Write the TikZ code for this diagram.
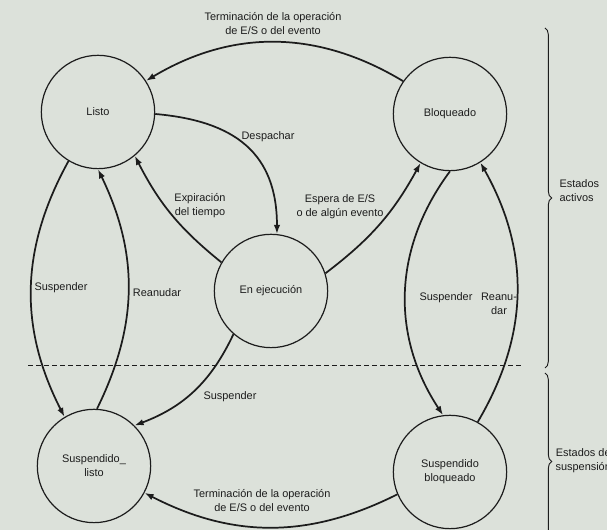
\documentclass[tikz,border=0pt]{standalone}
\usepackage{fontspec}
\setmainfont{Liberation Sans}
\usetikzlibrary{arrows.meta,decorations.pathreplacing}
\definecolor{papel}{HTML}{DCE1DA}
\definecolor{tinta}{HTML}{1C1C1C}
\tikzset{
  estado/.style={
    circle,
    draw=tinta,
    line width=0.9pt,
    minimum size=85pt,
    inner sep=0pt,
    align=center,
    text=tinta,
    font=\fontsize{8.2}{10.5}\selectfont
  },
  trans/.style={
    -{Latex[length=2.4mm,width=1.7mm]},
    line width=1.3pt,
    draw=tinta
  },
  etiqueta/.style={
    font=\fontsize{8.2}{10.5}\selectfont,
    text=tinta,
    align=center,
    inner sep=1pt
  },
  llave/.style={
    decorate,
    decoration={brace, amplitude=5pt},
    line width=0.7pt,
    draw=tinta
  }
}

\begin{document}
\begin{tikzpicture}[x=0.75pt,y=0.75pt]

\clip (0,0) rectangle (607,530);
\fill[papel] (0,0) rectangle (607,530);

% Estados activos.
\node[estado] (listo) at (98,418) {Listo};
\node[estado] (bloqueado) at (450,416) {Bloqueado};
\node[estado] (ejecucion) at (271,239) {En ejecución};

% Estados de suspensión.
\node[estado] (susplisto) at (94,64) {Suspendido\_\\listo};
\node[estado] (suspbloq) at (450,58) {Suspendido\\bloqueado};

% Transiciones.
\draw[trans] (bloqueado.145) to[bend right=31] (listo.33);
\draw[trans] (listo.-2) to[out=-5, in=90, looseness=1.2] (ejecucion.84);
\draw[trans] (ejecucion.150) to[bend left=12] (listo.310);
\draw[trans] (ejecucion.18) to[bend right=12] (bloqueado.239);
\draw[trans] (listo.239) to[bend right=28] (susplisto.121);
\draw[trans] (susplisto.87) to[bend right=26] (listo.270);
\draw[trans] (bloqueado.270) to[bend right=35] (suspbloq.97);
\draw[trans] (suspbloq.61) to[bend right=30] (bloqueado.302);
\draw[trans] (ejecucion.229) to[bend left=22] (susplisto.45);
\draw[trans] (suspbloq.203) to[bend left=27] (susplisto.332);

% Etiquetas de las transiciones.
\node[etiqueta] (lblTermArriba) at (273,506)
  {Terminación de la operación\\de E/S o del evento};
\node[etiqueta] (lblDespachar) at (268,393) {Despachar};
\node[etiqueta] (lblExpiracion) at (200,324) {Expiración\\del tiempo};
\node[etiqueta] (lblEspera) at (340,323) {Espera de E/S\\o de algún evento};
\node[etiqueta] (lblSuspIzq) at (61,242) {Suspender};
\node[etiqueta] (lblReanIzq) at (157,237) {Reanudar};
\node[etiqueta] (lblSuspDer) at (446,232) {Suspender};
\node[etiqueta] (lblReanDer) at (499,226) {Reanu-\\dar};
\node[etiqueta] (lblSuspCentro) at (230,133) {Suspender};
\node[etiqueta] (lblTermAbajo) at (262,29)
  {Terminación de la operación\\de E/S o del evento};

% Separación y llaves.
\draw[dashed, dash pattern=on 4pt off 2pt, line width=0.7pt, draw=tinta] (28,165) -- (522,165);
\draw[llave] (545,502) -- (545,162);
\draw[llave] (545,157) -- (545,-20);
\node[etiqueta, anchor=west, align=left] (lblActivos) at (558,339) {Estados\\activos};
\node[etiqueta, anchor=west] (lblSuspension) at (554,69) {Estados de\\suspensión};

\end{tikzpicture}
\end{document}
